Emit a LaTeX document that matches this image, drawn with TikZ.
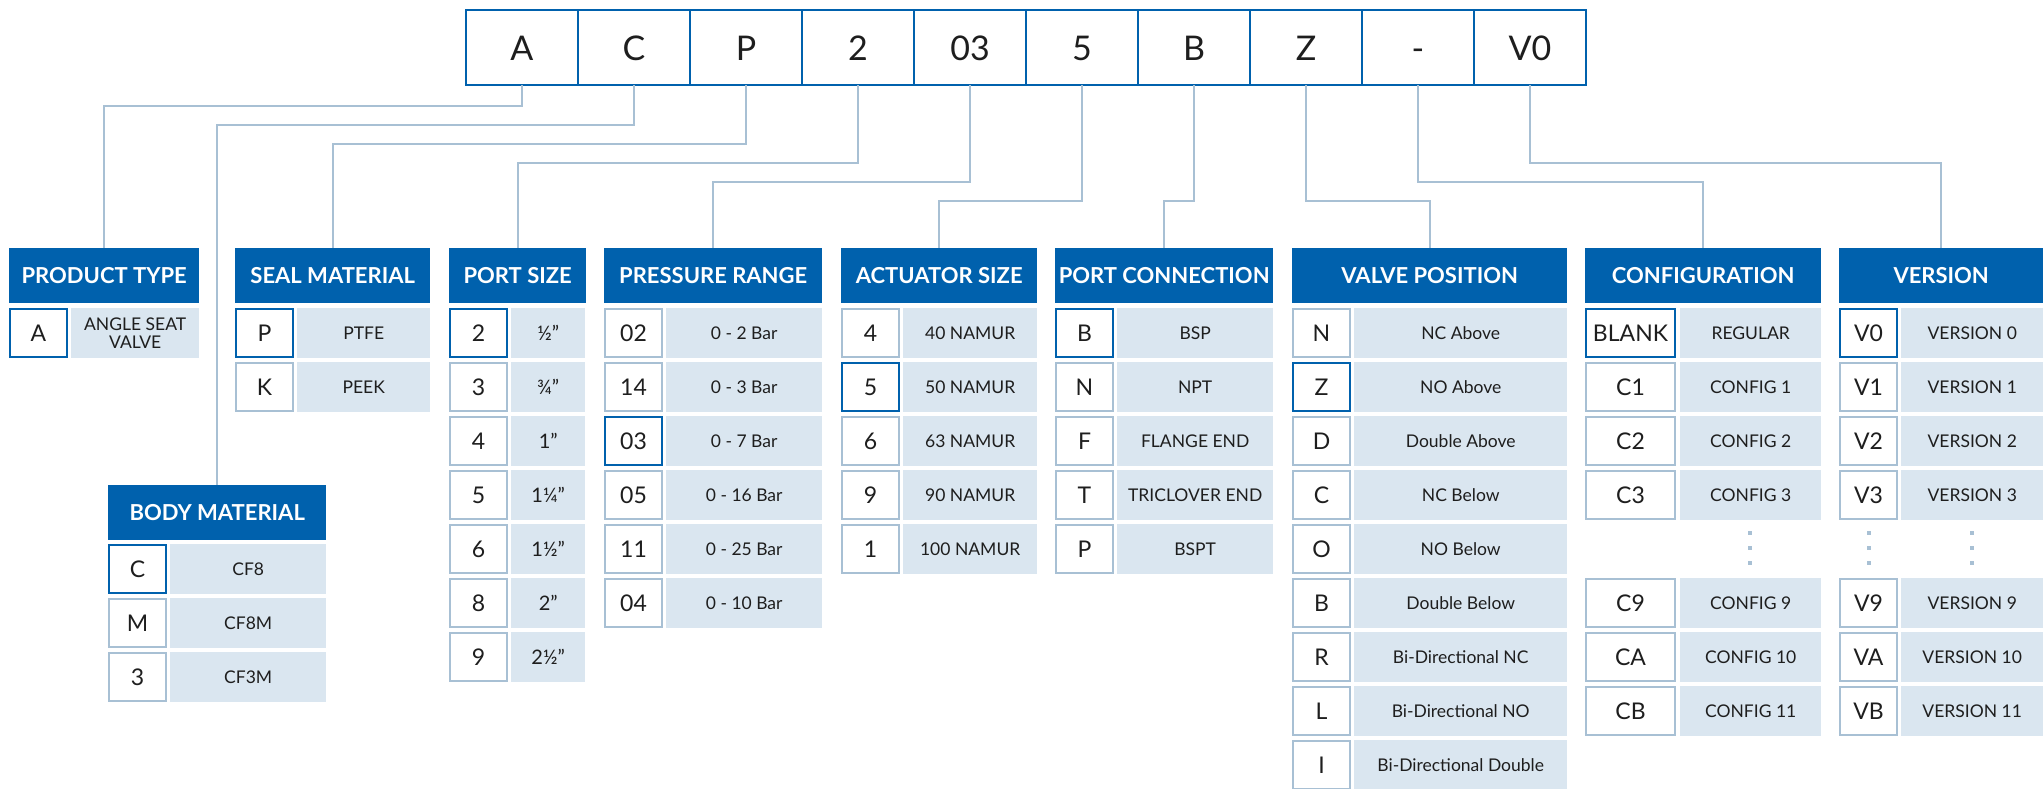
\documentclass[tikz,border=0pt]{standalone}
\usepackage{fontspec}
\setmainfont{Lato}
\usetikzlibrary{positioning}
\definecolor{hdrblue}{HTML}{0061AD}
\definecolor{cellfill}{HTML}{DAE6F0}
\definecolor{boxline}{HTML}{A8C0D4}
\definecolor{ink}{HTML}{1E1E1E}

\begin{document}
\begin{tikzpicture}[x=1pt,y=-1pt,
  digit/.style={draw=hdrblue,line width=2.5pt,fill=white,text=ink,outer sep=0pt,
    minimum width=112pt,minimum height=75pt,inner sep=0pt,text height=25pt,text depth=0pt,
    font=\fontsize{34}{34}\selectfont},
  hdr/.style={fill=hdrblue,text=white,anchor=north west,minimum height=55pt,inner sep=0pt,
    font=\fontsize{22}{22}\selectfont\bfseries},
  optbox/.style={draw=boxline,line width=2pt,fill=white,text=ink,anchor=west,
    minimum width=57pt,minimum height=48pt,inner sep=0pt,font=\fontsize{23}{23}\selectfont},
  desc/.style={fill=cellfill,text=ink,minimum height=50pt,inner sep=0pt,align=center,
    font=\fontsize{17.5}{18}\selectfont},
  link/.style={draw=boxline,line width=2.2pt}]
\useasboundingbox (0,0) rectangle (2043,788);

% part number
\node[digit] (dA) at (522,47.5) {A};
\node[digit,right=0pt of dA] (dC) {C};
\node[digit,right=0pt of dC] (dP) {P};
\node[digit,right=0pt of dP] (d2) {2};
\node[digit,right=0pt of d2] (d03) {03};
\node[digit,right=0pt of d03] (d5) {5};
\node[digit,right=0pt of d5] (dB) {B};
\node[digit,right=0pt of dB] (dZ) {Z};
\node[digit,right=0pt of dZ] (dDash) {-};
\node[digit,right=0pt of dDash] (dV) {V0};

% headers
\node[hdr,minimum width=190pt] (hProd) at (9,248) {PRODUCT TYPE};
\node[hdr,minimum width=195pt] (hSeal) at (235,248) {SEAL MATERIAL};
\node[hdr,minimum width=218pt] (hBody) at (108,485) {BODY MATERIAL};
\node[hdr,minimum width=137pt] (hPort) at (449,248) {PORT SIZE};
\node[hdr,minimum width=218pt] (hPres) at (604,248) {PRESSURE RANGE};
\node[hdr,minimum width=196pt] (hAct) at (841,248) {ACTUATOR SIZE};
\node[hdr,minimum width=218pt] (hConn) at (1055,248) {PORT CONNECTION};
\node[hdr,minimum width=275pt] (hValve) at (1292,248) {VALVE POSITION};
\node[hdr,minimum width=236pt] (hConf) at (1585,248) {CONFIGURATION};
\node[hdr,minimum width=204pt] (hVer) at (1839,248) {VERSION};

% option rows
\foreach \c/\d/\s [count=\i from 0] in {A/{ANGLE SEAT\\VALVE}/hdrblue}{
  \node[optbox,draw=\s] (pt\i) at (9,{333+54*\i}) {\c};
  \node[desc,minimum width=128pt,right=3pt of pt\i] {\d};
}
\foreach \c/\d/\s [count=\i from 0] in {P/PTFE/hdrblue,K/PEEK/boxline}{
  \node[optbox,draw=\s] (sl\i) at (235,{333+54*\i}) {\c};
  \node[desc,minimum width=133pt,right=3pt of sl\i] {\d};
}
\foreach \c/\d/\s [count=\i from 0] in {C/CF8/hdrblue,M/CF8M/boxline,3/CF3M/boxline}{
  \node[optbox,draw=\s] (bm\i) at (108,{569+54*\i}) {\c};
  \node[desc,minimum width=156pt,right=3pt of bm\i] {\d};
}
\foreach \c/\d/\s [count=\i from 0] in {2/½”/hdrblue,3/¾”/boxline,4/1”/boxline,
    5/1¼”/boxline,6/1½”/boxline,8/2”/boxline,9/2½”/boxline}{
  \node[optbox,draw=\s] (ps\i) at (449,{333+54*\i}) {\c};
  \node[desc,minimum width=74pt,right=3pt of ps\i,font=\fontsize{20}{20}\selectfont] {\d};
}
\foreach \c/\d/\s [count=\i from 0] in {02/0 - 2 Bar/boxline,14/0 - 3 Bar/boxline,
    03/0 - 7 Bar/hdrblue,05/0 - 16 Bar/boxline,11/0 - 25 Bar/boxline,04/0 - 10 Bar/boxline}{
  \node[optbox,draw=\s] (pr\i) at (604,{333+54*\i}) {\c};
  \node[desc,minimum width=156pt,right=3pt of pr\i] {\d};
}
\foreach \c/\d/\s [count=\i from 0] in {4/40 NAMUR/boxline,5/50 NAMUR/hdrblue,
    6/63 NAMUR/boxline,9/90 NAMUR/boxline,1/100 NAMUR/boxline}{
  \node[optbox,draw=\s] (as\i) at (841,{333+54*\i}) {\c};
  \node[desc,minimum width=134pt,right=3pt of as\i] {\d};
}
\foreach \c/\d/\s [count=\i from 0] in {B/BSP/hdrblue,N/NPT/boxline,F/FLANGE END/boxline,
    T/TRICLOVER END/boxline,P/BSPT/boxline}{
  \node[optbox,draw=\s] (pc\i) at (1055,{333+54*\i}) {\c};
  \node[desc,minimum width=156pt,right=3pt of pc\i] {\d};
}
\foreach \c/\d/\s [count=\i from 0] in {N/NC Above/boxline,Z/NO Above/hdrblue,
    D/Double Above/boxline,C/NC Below/boxline,O/NO Below/boxline,B/Double Below/boxline,
    R/Bi-Directional NC/boxline,L/Bi-Directional NO/boxline,I/Bi-Directional Double/boxline}{
  \node[optbox,draw=\s] (vp\i) at (1292,{333+54*\i}) {\c};
  \node[desc,minimum width=213pt,right=3pt of vp\i] {\d};
}
\foreach \c/\d/\s/\r in {BLANK/REGULAR/hdrblue/0,C1/CONFIG 1/boxline/1,C2/CONFIG 2/boxline/2,
    C3/CONFIG 3/boxline/3,C9/CONFIG 9/boxline/5,CA/CONFIG 10/boxline/6,CB/CONFIG 11/boxline/7}{
  \node[optbox,draw=\s,minimum width=89pt] (cf\r) at (1585,{333+54*\r}) {\c};
  \node[desc,minimum width=141pt,right=4pt of cf\r] {\d};
}
\foreach \c/\d/\s/\r in {V0/VERSION 0/hdrblue/0,V1/VERSION 1/boxline/1,V2/VERSION 2/boxline/2,
    V3/VERSION 3/boxline/3,V9/VERSION 9/boxline/5,VA/VERSION 10/boxline/6,VB/VERSION 11/boxline/7}{
  \node[optbox,draw=\s] (vr\r) at (1839,{333+54*\r}) {\c};
  \node[desc,minimum width=142pt,right=3pt of vr\r] {\d};
}

% skipped rows
\foreach \x in {1750,1869,1972}
  \foreach \y in {533,548,563}
    \fill[boxline] (\x-2,\y-2) rectangle ++(4,4);

% connectors
\draw[link] (dA.south) -- ++(0,21) -| (hProd.north);
\draw[link] (dC.south) -- ++(0,40) -| (hBody.north);
\draw[link] (dP.south) -- ++(0,59) -| (hSeal.north);
\draw[link] (d2.south) -- ++(0,78) -| (hPort.north);
\draw[link] (d03.south) -- ++(0,97) -| (hPres.north);
\draw[link] (d5.south) -- ++(0,116) -| (hAct.north);
\draw[link] (dB.south) -- ++(0,116) -| (hConn.north);
\draw[link] (dZ.south) -- ++(0,116) -| (hValve.north);
\draw[link] (dDash.south) -- ++(0,97) -| (hConf.north);
\draw[link] (dV.south) -- ++(0,78) -| (hVer.north);
\end{tikzpicture}
\end{document}
